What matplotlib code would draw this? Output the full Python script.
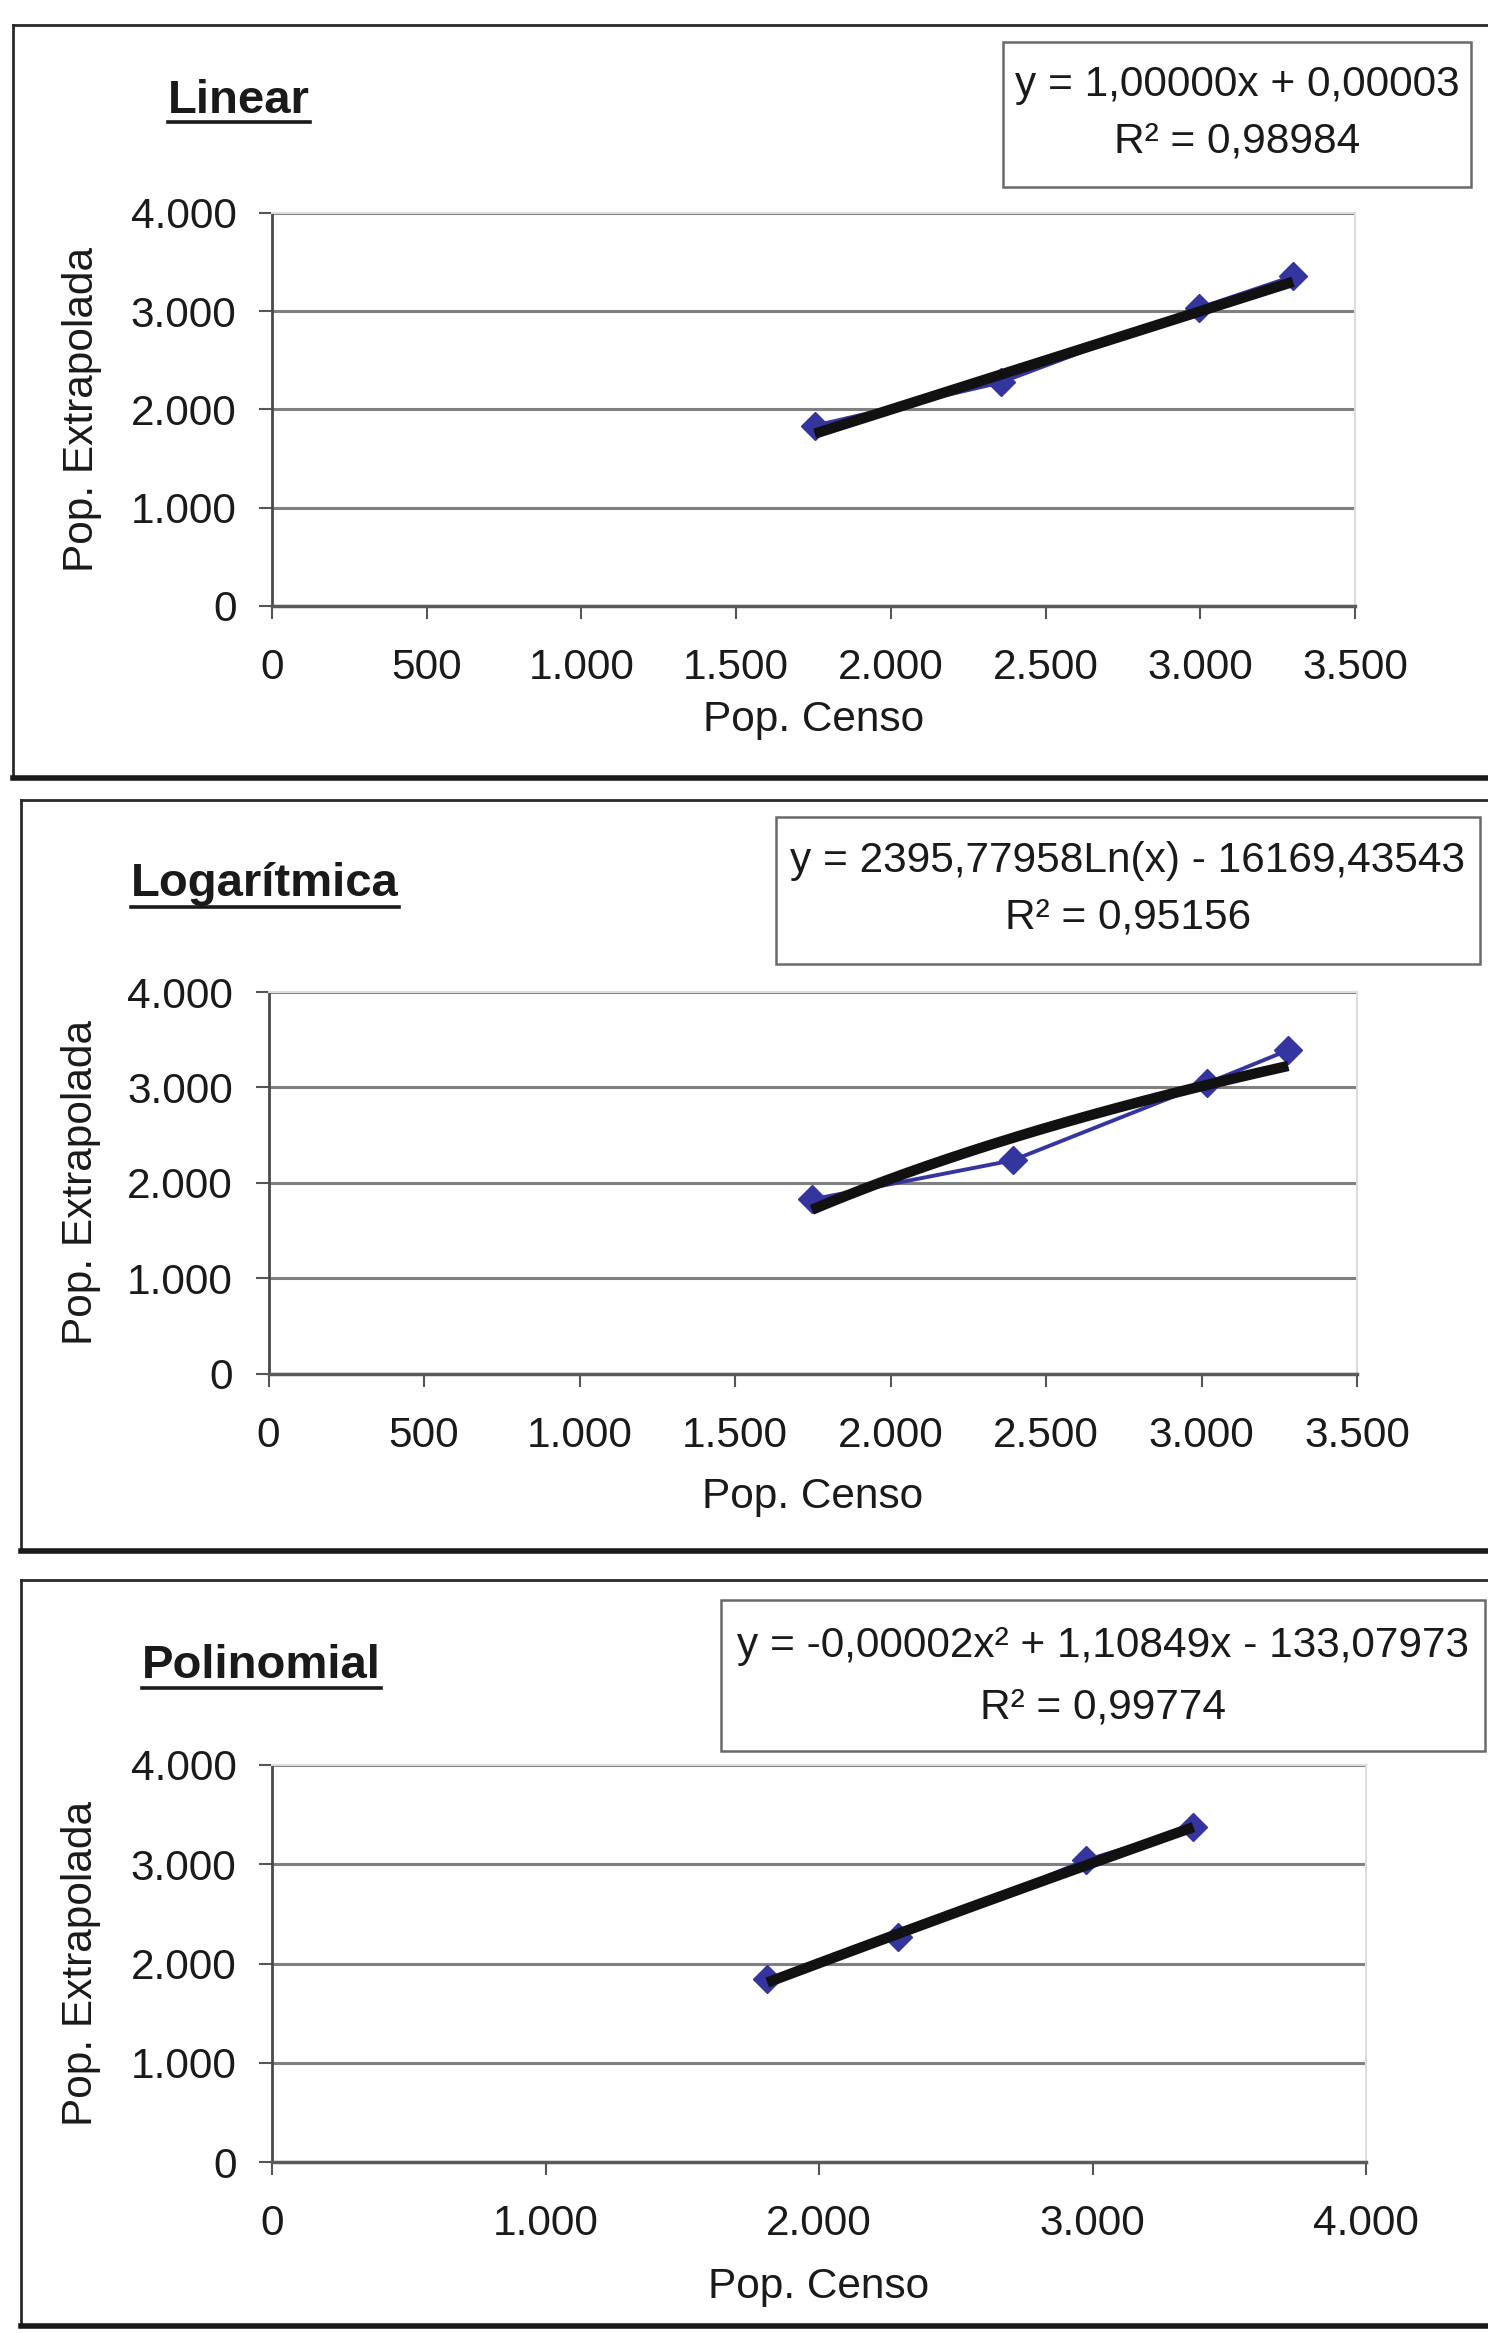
import matplotlib
matplotlib.use('Agg')
import matplotlib.pyplot as plt
from matplotlib.lines import Line2D
from matplotlib.patches import Rectangle
import numpy as np

plt.rcParams['font.family'] = ['Liberation Sans', 'DejaVu Sans']

W, H, DPI = 1488, 2333, 100

# ---------------- data ----------------
titles = ['Linear', 'Logarítmica', 'Polinomial']
x_label = 'Pop. Censo'
y_label = 'Pop. Extrapolada'

censo_lin = [1754, 2355, 2997, 3300]
extrap_lin = [1835, 2275, 3034, 3356]
censo_log = [1747, 2393, 3017, 3279]
extrap_log = [1825, 2235, 3042, 3391]
censo_pol = [1811, 2290, 2976, 3369]
extrap_pol = [1840, 2268, 3040, 3376]

lin_coef = [1.00000, 0.00003]                 # y = a x + b
log_coef = [2395.77958, -16169.43543]         # y = a ln(x) + b
pol_coef = [-0.00002, 1.10849, -133.07973]    # y = a x^2 + b x + c

eq_lines = [
    ['y = 1,00000x + 0,00003', 'R² = 0,98984'],
    ['y = 2395,77958Ln(x) - 16169,43543', 'R² = 0,95156'],
    ['y = -0,00002x² + 1,10849x - 133,07973', 'R² = 0,99774'],
]

y_ticks = [0, 1000, 2000, 3000, 4000]
y_ticklabels = ['0', '1.000', '2.000', '3.000', '4.000']
x_ticks_a = [0, 500, 1000, 1500, 2000, 2500, 3000, 3500]
x_ticklabels_a = ['0', '500', '1.000', '1.500', '2.000', '2.500', '3.000', '3.500']
x_ticks_b = [0, 1000, 2000, 3000, 4000]
x_ticklabels_b = ['0', '1.000', '2.000', '3.000', '4.000']

# ---------------- layout (pixels) ----------------
panels = [
    dict(ax=(272, 1355, 606, 213), frame=(13, 25, 778), title=(168, 113, 122),
         box=(1003, 42, 1471, 187), eq_y=(85, 142), eq_cx=1237, ylab_x=82, xlab_y=720,
         xmax=3500, xt=x_ticks_a, xtl=x_ticklabels_a),
    dict(ax=(268.5, 1357, 1373.5, 992), frame=(21, 800, 1551), title=(131, 896, 907),
         box=(776, 817, 1480, 964), eq_y=(861, 918), eq_cx=1128, ylab_x=81, xlab_y=1497,
         xmax=3500, xt=x_ticks_a, xtl=x_ticklabels_a),
    dict(ax=(272, 1366, 2162, 1765), frame=(21, 1580, 2326), title=(142, 1678, 1688),
         box=(721, 1600, 1485, 1751), eq_y=(1646, 1708), eq_cx=1103, ylab_x=81, xlab_y=2287,
         xmax=4000, xt=x_ticks_b, xtl=x_ticklabels_b),
]

series = [(censo_lin, extrap_lin), (censo_log, extrap_log), (censo_pol, extrap_pol)]


def fx(px):
    return px / W


def fy(py):
    return 1 - py / H


def trend(i, xs):
    xs = np.asarray(xs, dtype=float)
    if i == 0:
        return lin_coef[0] * xs + lin_coef[1]
    if i == 1:
        return log_coef[0] * np.log(xs) + log_coef[1]
    return np.polyval(pol_coef, xs)


fig = plt.figure(figsize=(W / DPI, H / DPI), dpi=DPI)
fig.patch.set_facecolor('white')

FS = 30.5
blue = '#3535a0'
title_texts = []

for i, p in enumerate(panels):
    # chart-area frame
    l, t, b = p['frame']
    fig.add_artist(Line2D([fx(l), fx(l)], [fy(t), fy(b)], color='#2a2a2a', lw=2.0))
    fig.add_artist(Line2D([fx(l), fx(W + 20)], [fy(t), fy(t)], color='#2a2a2a', lw=2.0))
    fig.add_artist(Line2D([fx(l), fx(W + 20)], [fy(b), fy(b)], color='#1a1a1a', lw=4.0))

    x0, x1, y0, y1 = p['ax']
    ax = fig.add_axes([fx(x0), fy(y0), (x1 - x0) / W, (y0 - y1) / H])
    ax.set_facecolor('white')
    ax.set_xlim(0, p['xmax'])
    ax.set_ylim(0, 4000)
    ax.set_xticks(p['xt'])
    ax.set_xticklabels(p['xtl'])
    ax.set_yticks(y_ticks)
    ax.set_yticklabels(y_ticklabels)
    ax.tick_params(axis='both', direction='out', length=9.5, width=1.5, color='#555555',
                   labelsize=FS, labelcolor='#1a1a1a')
    ax.tick_params(axis='x', pad=21)
    ax.tick_params(axis='y', pad=16)
    ax.yaxis.grid(True, color='#808080', lw=2.2)
    ax.set_axisbelow(True)
    for s in ['top', 'right']:
        ax.spines[s].set_color('#dcdcdc')
        ax.spines[s].set_linewidth(1.5)
    ax.spines['left'].set_color('#4a4a4a')
    ax.spines['left'].set_linewidth(2.0)
    ax.spines['bottom'].set_color('#5a5a5a')
    ax.spines['bottom'].set_linewidth(2.5)

    xs, ys = series[i]
    ax.plot(xs, ys, color=blue, lw=2.8, marker='D', ms=14, mfc=blue, mec=blue, zorder=3)
    tx = np.linspace(min(xs), max(xs), 200)
    ax.plot(tx, trend(i, tx), color='#111111', lw=7.5, solid_capstyle='butt', zorder=4)

    ax.set_xlabel(x_label, fontsize=FS, color='#1a1a1a', va='center')
    ax.set_ylabel(y_label, fontsize=FS, color='#1a1a1a', va='center')
    ax_h = y0 - y1
    ax_w = x1 - x0
    ax.xaxis.set_label_coords(0.5, -(p['xlab_y'] - y0) / ax_h)
    ax.yaxis.set_label_coords(-(x0 - p['ylab_x']) / ax_w, 0.5)

    # equation box
    bl, bt, br, bb = p['box']
    fig.add_artist(Rectangle((fx(bl), fy(bb)), (br - bl) / W, (bb - bt) / H,
                             transform=fig.transFigure, facecolor='white',
                             edgecolor='#6a6a6a', lw=1.8, zorder=5))
    for line, yy in zip(eq_lines[i], p['eq_y']):
        fig.text(fx(p['eq_cx']), fy(yy), line, ha='center', va='center',
                 fontsize=FS, color='#1a1a1a', zorder=6)

    # title
    tx0, tb, tu = p['title']
    tt = fig.text(fx(tx0), fy(tb), titles[i], ha='left', va='baseline',
                  fontsize=34, fontweight='bold', color='#1a1a1a')
    title_texts.append((tt, tu))

fig.canvas.draw()
renderer = fig.canvas.get_renderer()
for tt, tu in title_texts:
    bb = tt.get_window_extent(renderer)
    fig.add_artist(Line2D([bb.x0 / W, bb.x1 / W], [fy(tu), fy(tu)],
                          color='#1a1a1a', lw=2.6))

fig.savefig('out.png', dpi=DPI, facecolor='white')
